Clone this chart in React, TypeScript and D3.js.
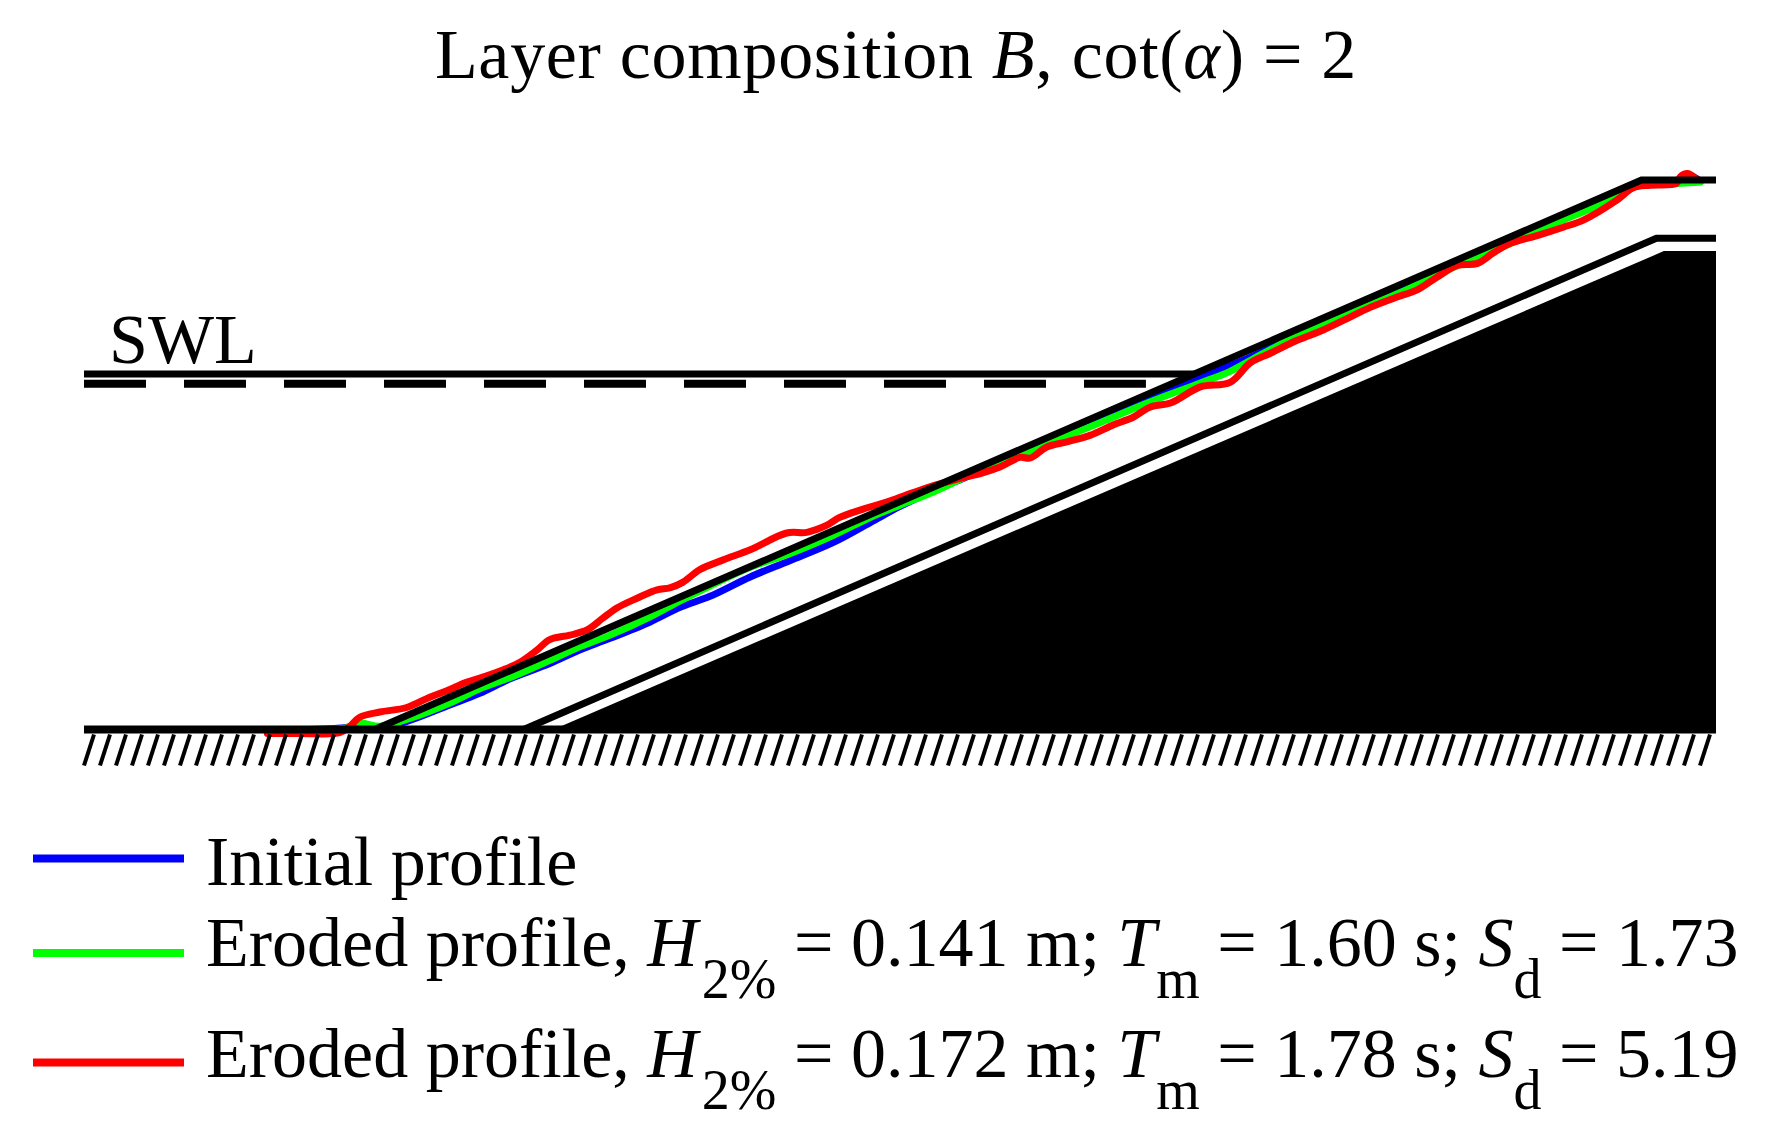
import * as d3 from 'd3'
import React, { useEffect, useRef } from 'react'

const width = 1773
const height = 1136
const fontFamily = "'Liberation Serif', 'Times New Roman', serif"

// section shown in the sketch (m), bed level = 0
const sectionX = [-0.39, 1.8]
const sectionY = [0, 0.85]
const cotAlpha = 2

// layer outlines [x, z] in m
const armourLine = [
    [0, 0],
    [1.7, 0.85],
    [1.8, 0.85],
]
const filterLine = [
    [0.2, 0],
    [1.72, 0.76],
    [1.8, 0.76],
]
const coreArea = [
    [0.24, 0],
    [1.73, 0.74],
    [1.8, 0.74],
    [1.8, 0],
]

// water levels
const swlLevel = 0.55
const dashedLevel = 0.535
const dashedEnd = 1.035

// measured profiles [x, z] in m
const initialProfile = [
    [-0.1, 0.0], [-0.034, 0.004], [-0.02, 0.01], [0.007, 0.002], [0.047, 0.014],
    [0.101, 0.038], [0.141, 0.056], [0.181, 0.078], [0.235, 0.102], [0.275, 0.123],
    [0.316, 0.141], [0.369, 0.166], [0.41, 0.189], [0.45, 0.206], [0.504, 0.236],
    [0.557, 0.261], [0.615, 0.289], [0.665, 0.32], [0.705, 0.345], [0.749, 0.369],
    [0.799, 0.393], [0.839, 0.414], [0.886, 0.436], [0.929, 0.459], [0.974, 0.478],
    [1.041, 0.51], [1.108, 0.545], [1.175, 0.576], [1.242, 0.614], [1.309, 0.649],
    [1.376, 0.681], [1.444, 0.716], [1.511, 0.75], [1.578, 0.782], [1.645, 0.817],
    [1.7, 0.844], [1.752, 0.846], [1.765, 0.856], [1.779, 0.848],
]
const erodedProfile1 = [
    [-0.1, 0.0], [-0.04, 0.002], [-0.02, 0.01], [0.007, 0.005], [0.047, 0.017],
    [0.101, 0.041], [0.141, 0.063], [0.181, 0.08], [0.235, 0.107], [0.275, 0.128],
    [0.316, 0.146], [0.369, 0.174], [0.41, 0.199], [0.45, 0.222], [0.504, 0.251],
    [0.557, 0.272], [0.615, 0.3], [0.665, 0.328], [0.705, 0.347], [0.749, 0.367],
    [0.799, 0.394], [0.839, 0.412], [0.886, 0.434], [0.929, 0.454], [0.974, 0.475],
    [1.041, 0.507], [1.108, 0.536], [1.148, 0.554], [1.188, 0.579], [1.242, 0.611],
    [1.309, 0.644], [1.376, 0.676], [1.444, 0.713], [1.511, 0.745], [1.578, 0.78],
    [1.645, 0.812], [1.7, 0.843], [1.752, 0.845], [1.779, 0.847],
]
const erodedProfile2 = [
    [-0.144, -0.006], [-0.101, -0.006], [-0.047, -0.005], [-0.034, 0.004], [-0.02, 0.019],
    [0.007, 0.027], [0.043, 0.034], [0.074, 0.05], [0.097, 0.06], [0.123, 0.073],
    [0.145, 0.081], [0.172, 0.092], [0.195, 0.104], [0.218, 0.123], [0.235, 0.139],
    [0.262, 0.146], [0.285, 0.154], [0.306, 0.172], [0.325, 0.188], [0.352, 0.203],
    [0.379, 0.216], [0.396, 0.219], [0.414, 0.228], [0.436, 0.247], [0.467, 0.262],
    [0.504, 0.278], [0.553, 0.304], [0.58, 0.305], [0.607, 0.316], [0.624, 0.328],
    [0.661, 0.343], [0.688, 0.352], [0.714, 0.363], [0.741, 0.374], [0.768, 0.383],
    [0.795, 0.391], [0.816, 0.397], [0.839, 0.406], [0.866, 0.421], [0.88, 0.42],
    [0.902, 0.437], [0.929, 0.445], [0.96, 0.455], [0.991, 0.471], [1.018, 0.483],
    [1.041, 0.499], [1.068, 0.505], [1.108, 0.53], [1.148, 0.537], [1.175, 0.567],
    [1.202, 0.582], [1.238, 0.602], [1.273, 0.618], [1.309, 0.638], [1.336, 0.653],
    [1.372, 0.669], [1.399, 0.68], [1.426, 0.7], [1.453, 0.718], [1.48, 0.721],
    [1.501, 0.737], [1.524, 0.752], [1.56, 0.764], [1.595, 0.777], [1.622, 0.788],
    [1.667, 0.819], [1.689, 0.838], [1.712, 0.842], [1.747, 0.845], [1.752, 0.855],
    [1.762, 0.86], [1.773, 0.852],
]

// legend
const legendNames = ['Initial profile', 'Eroded profile', 'Eroded profile']
const waveHeights = [null, '0.141', '0.172']
const wavePeriods = [null, '1.60', '1.78']
const damageLevels = [null, '1.73', '5.19']
const profileColors = ['#0000ff', '#00ff00', '#ff0000']

const App = (): JSX.Element => {
    const ref = useRef<SVGSVGElement>(null)

    useEffect(() => {
        const svg = d3.select(ref.current)
        svg.selectAll('*').remove()

        const x = d3.scaleLinear().domain(sectionX).range([84, 1716])
        const y = d3.scaleLinear().domain(sectionY).range([729.5, 180])

        const line = d3
            .line()
            .x((d) => x(d[0]))
            .y((d) => y(d[1]))
        const smooth = d3
            .line()
            .x((d) => x(d[0]))
            .y((d) => y(d[1]))
            .curve(d3.curveCatmullRom.alpha(0.5))

        // core + filter
        svg.append('path').attr('d', `${line(coreArea)}Z`).attr('fill', '#000')
        svg.append('path')
            .attr('d', line(filterLine))
            .attr('fill', 'none')
            .attr('stroke', '#000')
            .attr('stroke-width', 7)

        // profiles
        ;[initialProfile, erodedProfile1, erodedProfile2].forEach((p, i) => {
            svg.append('path')
                .attr('d', smooth(p))
                .attr('fill', 'none')
                .attr('stroke', profileColors[i])
                .attr('stroke-width', 7)
                .attr('stroke-linejoin', 'round')
                .attr('stroke-linecap', 'round')
        })

        // armour surface
        svg.append('path')
            .attr('d', line(armourLine))
            .attr('fill', 'none')
            .attr('stroke', '#000')
            .attr('stroke-width', 7)

        // water levels
        svg.append('path')
            .attr(
                'd',
                line([
                    [sectionX[0], swlLevel],
                    [swlLevel * cotAlpha, swlLevel],
                ])
            )
            .attr('stroke', '#000')
            .attr('stroke-width', 7)
        svg.append('path')
            .attr(
                'd',
                line([
                    [sectionX[0], dashedLevel],
                    [dashedEnd, dashedLevel],
                ])
            )
            .attr('stroke', '#000')
            .attr('stroke-width', 8)
            .attr('stroke-dasharray', '62 38')

        // bed + hatching
        svg.append('path')
            .attr(
                'd',
                line([
                    [sectionX[0], 0],
                    [sectionX[1], 0],
                ])
            )
            .attr('stroke', '#000')
            .attr('stroke-width', 8)
        const hatchTop = y(0) + 5
        svg.append('g')
            .selectAll('line')
            .data(d3.range(x(sectionX[0]), x(sectionX[1]) - 6, 16))
            .enter()
            .append('line')
            .attr('x1', (d) => d)
            .attr('y1', hatchTop + 31)
            .attr('x2', (d) => d + 10)
            .attr('y2', hatchTop)
            .attr('stroke', '#000')
            .attr('stroke-width', 4)

        svg.append('text')
            .attr('x', 109)
            .attr('y', 363)
            .attr('font-family', fontFamily)
            .attr('font-size', 70)
            .text('SWL')

        // title
        const title = svg
            .append('text')
            .attr('x', 896)
            .attr('y', 78)
            .attr('text-anchor', 'middle')
            .attr('font-family', fontFamily)
            .attr('font-size', 70)
            .attr('letter-spacing', 0.7)
        title.append('tspan').text('Layer composition ')
        title.append('tspan').attr('font-style', 'italic').text('B')
        title.append('tspan').text(', cot(')
        title.append('tspan').attr('font-style', 'italic').text('α')
        title.append('tspan').text(') = 2')

        // legend
        const keyY = [858.5, 953, 1062.5]
        const textY = [885, 966, 1077]
        legendNames.forEach((name, i) => {
            svg.append('line')
                .attr('x1', 33)
                .attr('x2', 184)
                .attr('y1', keyY[i])
                .attr('y2', keyY[i])
                .attr('stroke', profileColors[i])
                .attr('stroke-width', 8)
            const t = svg
                .append('text')
                .attr('x', 206)
                .attr('y', textY[i])
                .attr('font-family', fontFamily)
                .attr('font-size', 70)
            if (!waveHeights[i]) {
                t.text(name)
                return
            }
            const sub = (s: string, dx = 0) => {
                t.append('tspan').attr('dx', dx).attr('dy', 32).attr('font-size', 56).text(s)
                t.append('tspan').attr('dy', -32).text('\u00a0')
            }
            t.append('tspan').text(`${name}, `)
            t.append('tspan').attr('font-style', 'italic').text('H')
            sub('2%', 4)
            t.append('tspan').text(`= ${waveHeights[i]} m; `)
            t.append('tspan').attr('font-style', 'italic').text('T')
            sub('m')
            t.append('tspan').text(`= ${wavePeriods[i]} s; `)
            t.append('tspan').attr('font-style', 'italic').text('S')
            sub('d')
            t.append('tspan').text(`= ${damageLevels[i]}`)
        })
    }, [])

    return (
        <svg
            ref={ref}
            width={width}
            height={height}
            style={{ position: 'absolute', left: 0, top: 0, background: '#fff' }}
        />
    )
}

export default App
